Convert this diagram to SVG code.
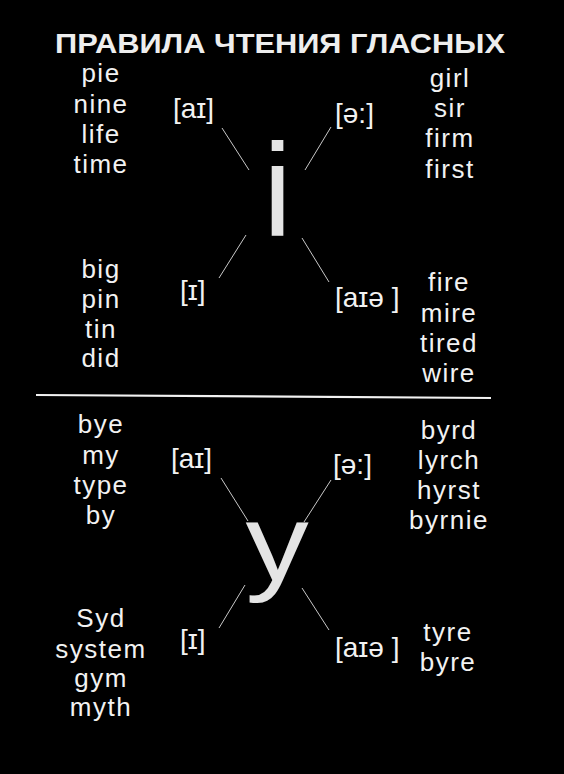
<svg xmlns="http://www.w3.org/2000/svg" width="564" height="774" viewBox="0 0 564 774">
<style>
.bg{fill:#000}
.t{font-family:"Liberation Sans",Arial,sans-serif;font-size:26px;fill:#f2f2f2;text-anchor:middle;letter-spacing:1.5px}
.ph{font-family:"Liberation Sans","DejaVu Sans",sans-serif;font-size:28px;fill:#f2f2f2}
.big{font-family:"Liberation Sans",Arial,sans-serif;fill:#e4e4e4;text-anchor:middle}
.title{font-family:"Liberation Sans",Arial,sans-serif;font-size:28px;font-weight:bold;fill:#eeeeee;text-anchor:middle}
.c{stroke:#c8c8c8;stroke-width:1;fill:none}
.div{stroke:#f2f2f2;stroke-width:2.2;fill:none}
</style>
<rect class="bg" x="0" y="0" width="564" height="774"/>

<g id="title"><text class="title" x="280" y="53" textLength="450" lengthAdjust="spacingAndGlyphs">ПРАВИЛА ЧТЕНИЯ ГЛАСНЫХ</text></g>

<g id="letter-i"><text class="big" x="277.5" y="236" font-size="131">i</text></g>
<g id="letter-y"><text class="big" transform="translate(277,580) scale(1.15,1)" x="0" y="0" font-size="110">y</text></g>

<g id="i-ai-words">
<text class="t" x="101" y="82">pie</text>
<text class="t" x="101" y="113">nine</text>
<text class="t" x="101" y="143">life</text>
<text class="t" x="101" y="173">time</text>
</g>
<g id="i-er-words">
<text class="t" x="450" y="87">girl</text>
<text class="t" x="450" y="117">sir</text>
<text class="t" x="450" y="147">firm</text>
<text class="t" x="450" y="178">first</text>
</g>
<g id="i-short-words">
<text class="t" x="101" y="278">big</text>
<text class="t" x="101" y="308">pin</text>
<text class="t" x="101" y="338">tin</text>
<text class="t" x="101" y="367">did</text>
</g>
<g id="i-aie-words">
<text class="t" x="449" y="291">fire</text>
<text class="t" x="449" y="322">mire</text>
<text class="t" x="449" y="352">tired</text>
<text class="t" x="449" y="382">wire</text>
</g>

<g id="i-ai"><text class="ph" x="173" y="118">[aɪ]</text></g>
<g id="i-er"><text class="ph" x="335" y="123">[ə:]</text></g>
<g id="i-short"><text class="ph" x="180" y="300">[ɪ]</text></g>
<g id="i-aie"><text class="ph" x="335" y="307">[aɪə ]</text></g>

<g id="y-ai-words">
<text class="t" x="101" y="433">bye</text>
<text class="t" x="101" y="464">my</text>
<text class="t" x="101" y="494">type</text>
<text class="t" x="101" y="524">by</text>
</g>
<g id="y-er-words">
<text class="t" x="449" y="439">byrd</text>
<text class="t" x="449" y="469">lyrch</text>
<text class="t" x="449" y="499">hyrst</text>
<text class="t" x="449" y="529">byrnie</text>
</g>
<g id="y-short-words">
<text class="t" x="101" y="627">Syd</text>
<text class="t" x="101" y="658">system</text>
<text class="t" x="101" y="687">gym</text>
<text class="t" x="101" y="716">myth</text>
</g>
<g id="y-aie-words">
<text class="t" x="448" y="641">tyre</text>
<text class="t" x="448" y="671">byre</text>
</g>

<g id="y-ai"><text class="ph" x="171" y="468">[aɪ]</text></g>
<g id="y-er"><text class="ph" x="333" y="474">[ə:]</text></g>
<g id="y-short"><text class="ph" x="180" y="649">[ɪ]</text></g>
<g id="y-aie"><text class="ph" x="335" y="657">[aɪə ]</text></g>

<g id="connectors">
<line class="c" x1="222" y1="128" x2="249" y2="170"/>
<line class="c" x1="331" y1="127" x2="305" y2="170"/>
<line class="c" x1="246" y1="235" x2="219" y2="278"/>
<line class="c" x1="302" y1="238" x2="329" y2="282"/>
<line class="c" x1="221" y1="478" x2="248" y2="521"/>
<line class="c" x1="331" y1="480" x2="304" y2="522"/>
<line class="c" x1="245" y1="585" x2="219" y2="628"/>
<line class="c" x1="302" y1="588" x2="329" y2="630"/>
<line class="div" x1="36" y1="395" x2="491" y2="398"/>
</g>
</svg>
